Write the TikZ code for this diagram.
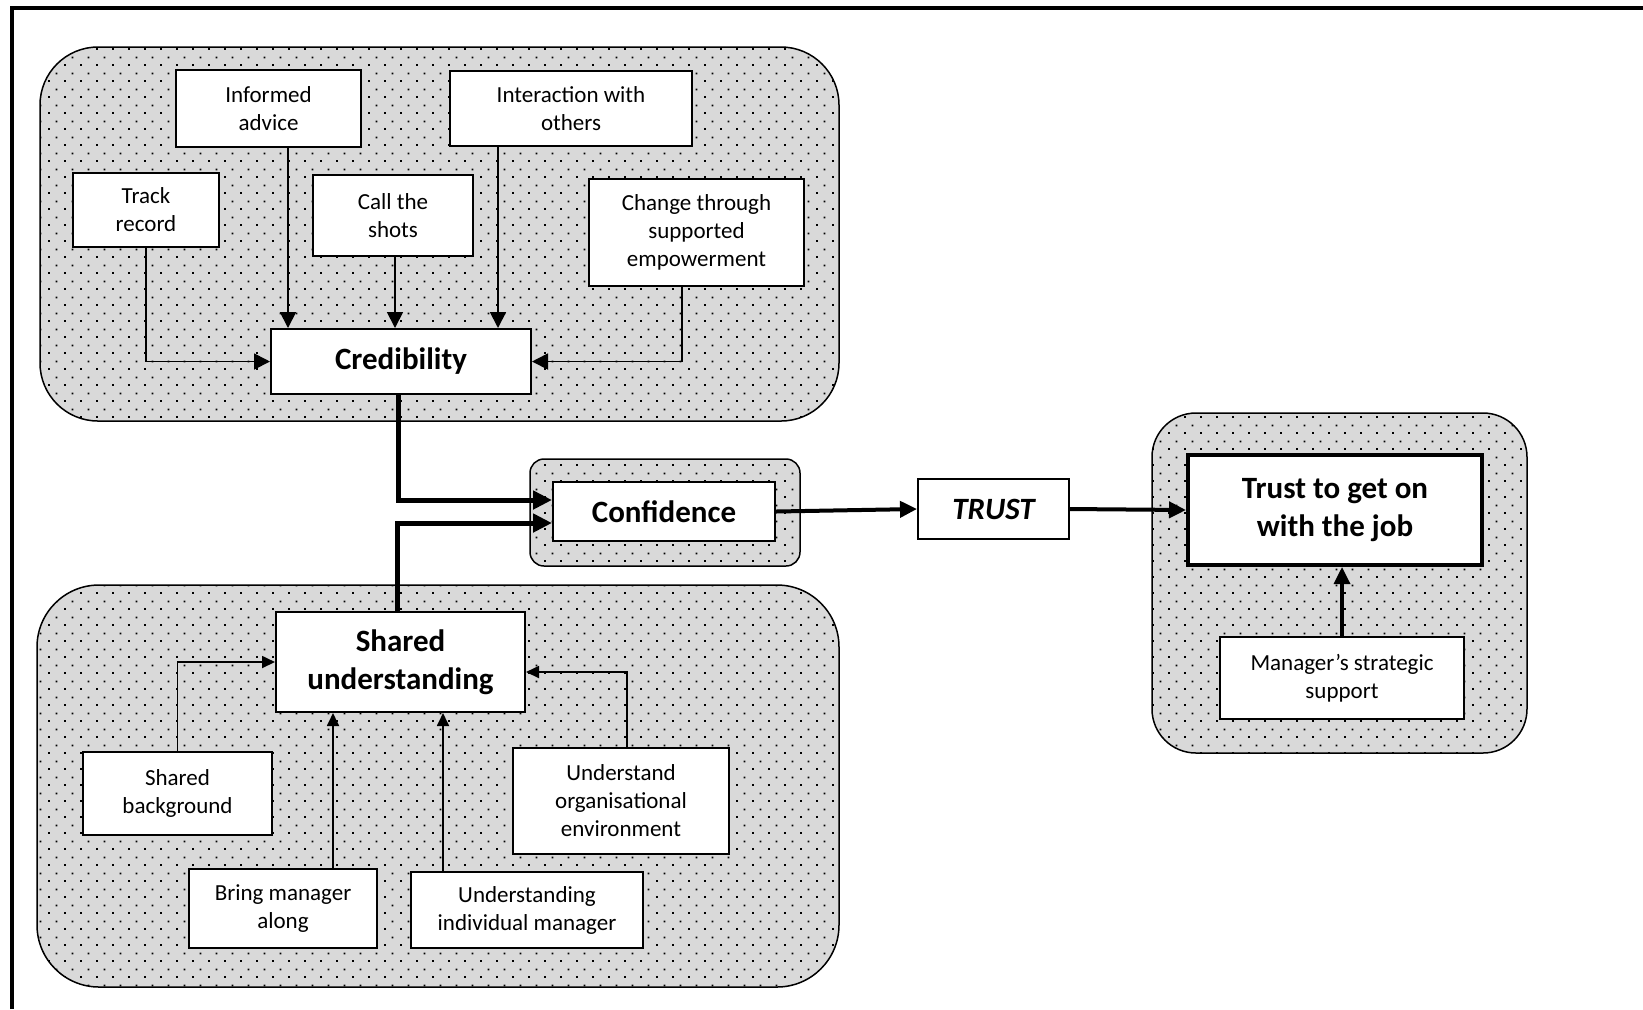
\documentclass[tikz,border=0pt]{standalone}
\usepackage{fontspec}
\setmainfont{Carlito}
\usetikzlibrary{arrows.meta,patterns}
\definecolor{grpgrey}{RGB}{217,217,217}
% staggered dot screen used inside the grouping panels
\pgfdeclarepatternformonly{stagdots}{\pgfqpoint{0pt}{0pt}}{\pgfqpoint{8pt}{8pt}}{\pgfqpoint{8pt}{8pt}}{%
  \pgfpathrectangle{\pgfqpoint{0pt}{0pt}}{\pgfqpoint{1pt}{1pt}}%
  \pgfpathrectangle{\pgfqpoint{4pt}{4pt}}{\pgfqpoint{1pt}{1pt}}%
  \pgfusepath{fill}}
\begin{document}
\begin{tikzpicture}[x=0.5pt,y=-0.5pt,
  group/.style={draw=black, line width=0.75pt, fill=grpgrey, postaction={pattern=stagdots}},
  smallbox/.style={draw, line width=1pt, fill=white, align=center, inner sep=0pt,
    font=\fontsize{11.5}{14}\selectfont},
  bigbox/.style={draw, line width=1pt, fill=white, align=center, inner sep=0pt,
    font=\fontsize{15.5}{18.9}\selectfont\bfseries},
  toparr/.style={line width=0.9pt, -{Triangle[length=8pt,width=8pt]}},
  lowarr/.style={line width=0.9pt, -{Triangle[length=6.5pt,width=6pt]}},
  heavyarr/.style={line width=2.5pt, -{Triangle[length=9.5pt,width=9pt]}},
  midarr/.style={line width=1.7pt, -{Triangle[length=8.5pt,width=8pt]}}
]
\useasboundingbox (0,0) rectangle (1643,1009);

% page frame (top and left edges)
\draw[line width=2pt] (11.5,1009) -- (11.5,8) -- (1643,8);

% grouping panels
\path[group, rounded corners=29pt] (40,47) rectangle (839,421);
\path[group, rounded corners=31pt] (37,585) rectangle (839,987);
\path[group, rounded corners=7pt] (530,459) rectangle (800,566);
\path[group, rounded corners=22pt] (1152,413) rectangle (1527,753);

% credibility cluster
\node[smallbox, minimum width=92.5pt, minimum height=38.5pt] (informed) at (268.5,108.5) {Informed\\advice};
\node[smallbox, minimum width=73pt, minimum height=37pt] (track) at (146,210) {Track\\record};
\node[smallbox, minimum width=80pt, minimum height=40.5pt] (shots) at (393,215.5) {Call the\\shots};
\node[smallbox, minimum width=121pt, minimum height=37.5pt] (interact) at (571,108.5) {Interaction with\\others};
\node[smallbox, minimum width=107.5pt, minimum height=53.5pt] (change) at (696.5,232.5) {Change through\\supported\\empowerment};
\node[bigbox, minimum width=130pt, minimum height=32.5pt] (cred) at (401,361.5) {Credibility};

% central chain
\node[bigbox, minimum width=111pt, minimum height=29.5pt] (conf) at (664,511.5) {Confidence};
\node[bigbox, minimum width=75.5pt, minimum height=30pt, font=\fontsize{15.5}{18.9}\selectfont\bfseries\itshape] (trust) at (993.5,509) {TRUST};
\node[bigbox, line width=2pt, minimum width=147pt, minimum height=55pt] (job) at (1335,510) {Trust to get on\\with the job};
\node[smallbox, minimum width=122pt, minimum height=41pt] (mgr) at (1342,678) {Manager’s strategic\\support};

% shared understanding cluster
\node[bigbox, minimum width=124.5pt, minimum height=50pt] (shared) at (400.5,662) {Shared\\understanding};
\node[smallbox, minimum width=94.5pt, minimum height=41.5pt] (bg) at (177.5,793.5) {Shared\\background};
\node[smallbox, minimum width=94pt, minimum height=39.5pt] (bring) at (283,908.5) {Bring manager\\along};
\node[smallbox, minimum width=116pt, minimum height=38pt] (indiv) at (527,910) {Understanding\\individual manager};
\node[smallbox, minimum width=108pt, minimum height=53pt] (org) at (621,801) {Understand\\organisational\\environment};

% connector columns
\coordinate (xinf) at (288,0);
\coordinate (xshot) at (395,0);
\coordinate (xint) at (498,0);
\coordinate (xchg) at (682,0);
\coordinate (xcred) at (398,0);
\coordinate (xshr) at (397,0);
\coordinate (xbring) at (333,0);
\coordinate (xind) at (443,0);
\coordinate (xorg) at (627,0);

% into credibility
\draw[toparr] (track.south) |- (cred.west);
\draw[toparr] (informed.south -| xinf) -- (cred.north -| xinf);
\draw[toparr] (shots.south -| xshot) -- (cred.north -| xshot);
\draw[toparr] (interact.south -| xint) -- (cred.north -| xint);
\draw[toparr] (change.south -| xchg) |- (cred.east);

% into confidence
\draw[heavyarr] (cred.south -| xcred) |- ([yshift=5.75pt]conf.west);
\draw[heavyarr] (shared.north -| xshr) |- ([yshift=-5.75pt]conf.west);

% along the chain
\draw[midarr, line width=2pt] (conf.east) -- (trust.west);
\draw[midarr, line width=2pt] (trust.east) -- (job.west);
\draw[midarr] (mgr.north) -- (mgr.north |- job.south);

% into shared understanding
\draw[lowarr] (bg.north) |- (shared.west);
\draw[lowarr] (bring.north -| xbring) -- (shared.south -| xbring);
\draw[lowarr] (indiv.north -| xind) -- (shared.south -| xind);
\draw[lowarr] (org.north -| xorg) |- ([yshift=-5pt]shared.east);
\end{tikzpicture}
\end{document}
